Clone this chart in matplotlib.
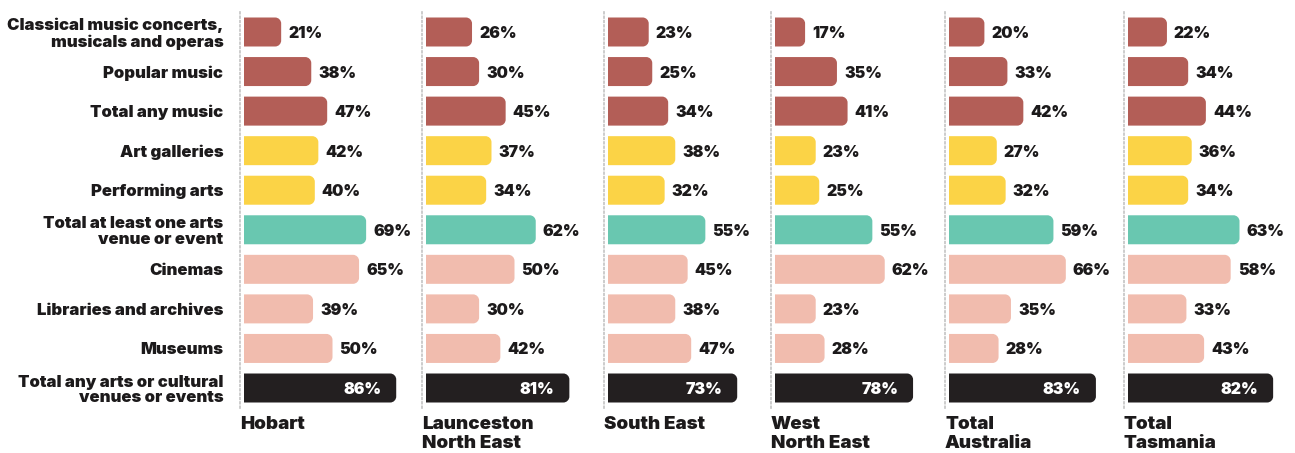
import matplotlib.pyplot as plt
from matplotlib.patches import PathPatch
from matplotlib.path import Path

plt.rcParams['font.family'] = ['Inter', 'DejaVu Sans']

categories = ['Classical music concerts,\nmusicals and operas', 'Popular music', 'Total any music',
              'Art galleries', 'Performing arts', 'Total at least one arts\nvenue or event',
              'Cinemas', 'Libraries and archives', 'Museums',
              'Total any arts or cultural\nvenues or events']
regions = ['Hobart', 'Launceston\nNorth East', 'South East', 'West\nNorth East',
           'Total\nAustralia', 'Total\nTasmania']
hobart = [21, 38, 47, 42, 40, 69, 65, 39, 50, 86]
launceston = [26, 30, 45, 37, 34, 62, 50, 30, 42, 81]
south_east = [23, 25, 34, 38, 32, 55, 45, 38, 47, 73]
west_ne = [17, 35, 41, 23, 25, 55, 62, 23, 28, 78]
australia = [20, 33, 42, 27, 32, 59, 66, 35, 28, 83]
tasmania = [22, 34, 44, 36, 34, 63, 58, 33, 43, 82]
series = [hobart, launceston, south_east, west_ne, australia, tasmania]

red, yellow, teal, pink, black = '#b35e57', '#fbd346', '#69c7b0', '#f1bcae', '#231f20'
row_colors = [red, red, red, yellow, yellow, teal, pink, pink, pink, black]
ink = '#1c1a1b'

W, H = 1295, 453
fig = plt.figure(figsize=(W / 100, H / 100), dpi=100)

px_per = 1.77          # pixels per percentage point
row_px = 39.56         # pixels per row
line_x = [240, 422, 604, 771, 945, 1124]
top_px, bot_px = 12, 408
ax_w = 170

bar_h = 29 / row_px
rx = 6 / px_per
ry = 6 / row_px
kb = 0.5523


def right_round_bar(ax, y, v, color):
    # bar with square left end and rounded right corners
    y0, y1 = y - bar_h / 2, y + bar_h / 2
    verts = [(0, y0), (v - rx, y0),
             (v - rx + kb * rx, y0), (v, y0 + ry - kb * ry), (v, y0 + ry),
             (v, y1 - ry),
             (v, y1 - ry + kb * ry), (v - rx + kb * rx, y1), (v - rx, y1),
             (0, y1), (0, y0)]
    codes = [Path.MOVETO, Path.LINETO,
             Path.CURVE4, Path.CURVE4, Path.CURVE4,
             Path.LINETO,
             Path.CURVE4, Path.CURVE4, Path.CURVE4,
             Path.LINETO, Path.CLOSEPOLY]
    ax.add_patch(PathPatch(Path(verts, codes), fc=color, ec='none'))


for k, (vals, name) in enumerate(zip(series, regions)):
    ax = fig.add_axes([line_x[k] / W, 1 - bot_px / H, ax_w / W, (bot_px - top_px) / H])
    x0 = -4 / px_per
    ax.set_xlim(x0, x0 + ax_w / px_per)
    pad = 20 / row_px
    ax.set_ylim(len(vals) - 1 + pad, -pad)
    for s in ['top', 'right', 'bottom']:
        ax.spines[s].set_visible(False)
    ax.spines['left'].set_color('#c4c4c4')
    ax.spines['left'].set_linestyle((0, (1, 1.6)))
    ax.spines['left'].set_linewidth(1.2)
    ax.set_xticks([])
    if k == 0:
        ax.set_yticks(range(len(categories)))
        ax.set_yticklabels(categories, fontsize=12.0, fontweight='black', color=ink,
                           linespacing=1.05)
        ax.tick_params(axis='y', length=0, pad=12)
    else:
        ax.set_yticks([])

    dy = 1.5 / row_px
    for i, v in enumerate(vals):
        right_round_bar(ax, i, v, row_colors[i])
        if i == len(vals) - 1:
            ax.text(v - 15 / px_per, i + dy, f'{v}%', ha='right', va='center',
                    fontsize=11.5, fontweight='black', color='white')
        else:
            ax.text(v + 7 / px_per, i + dy, f'{v}%', ha='left', va='center',
                    fontsize=11.5, fontweight='black', color=ink)

    fig.text(line_x[k] / W, 1 - 416 / H, name, ha='left', va='top',
             fontsize=13.5, fontweight='black', color=ink, linespacing=1.12)

fig.savefig('out.png', dpi=100)
